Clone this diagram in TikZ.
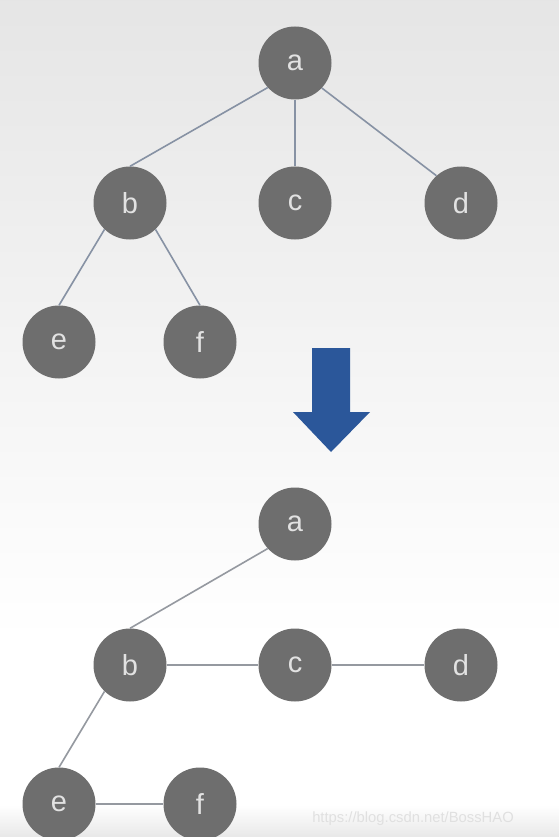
\documentclass[tikz,border=0pt]{standalone}
\usepackage{fontspec}
\setmainfont{Liberation Sans}
\begin{document}
\begin{tikzpicture}[x=1pt,y=-1pt,
  vert/.style={circle,fill=nodegray,minimum size=73pt,inner sep=0pt,text=nodetext,font=\fontsize{29}{29}\selectfont},
  edge/.style={line width=1.6pt,draw=edgecol}]
\definecolor{nodegray}{HTML}{6E6E6E}
\definecolor{nodetext}{HTML}{E2E2E2}
\definecolor{edgecol}{HTML}{8792A4}
\definecolor{edgecolb}{HTML}{9599A0}
\definecolor{arrowblue}{HTML}{2B579A}
\useasboundingbox (0,0) rectangle (559,837);
\shade[top color=black!10,bottom color=white] (0,0) rectangle (559,640);
\fill[white] (0,640) rectangle (559,805);
\shade[top color=white,bottom color=black!9] (0,805) rectangle (559,837);
% top tree
\node[vert] (a1) at (295,63) {a};
\node[vert] (b1) at (130,203) {b};
\node[vert] (c1) at (295,203) {c};
\node[vert] (d1) at (461,203) {d};
\node[vert] (e1) at (59,342) {e};
\node[vert] (f1) at (200,342) {f};
\draw[edge] (a1.-138) -- (b1.north);
\draw[edge] (a1.south) -- (c1.north);
\draw[edge] (a1.-43) -- (d1.132);
\draw[edge] (b1.-134) -- (e1.north);
\draw[edge] (b1.-46) -- (f1.north);
% arrow
\fill[arrowblue] (312,348) -- (350,348) -- (350,412) -- (370,412) -- (331,452) -- (293,412) -- (312,412) -- cycle;
% bottom tree
\node[vert] (a2) at (295,524) {a};
\node[vert] (b2) at (130,665) {b};
\node[vert] (c2) at (295,665) {c};
\node[vert] (d2) at (461,665) {d};
\node[vert] (e2) at (59,804) {e};
\node[vert] (f2) at (200,804) {f};
\draw[edge,draw=edgecolb] (a2.-138) -- (b2.north);
\draw[edge,draw=edgecolb] (b2.east) -- (c2.west);
\draw[edge,draw=edgecolb] (c2.east) -- (d2.west);
\draw[edge,draw=edgecolb] (b2.-134) -- (e2.north);
\draw[edge,draw=edgecolb] (e2.east) -- (f2.west);
\node[anchor=east,text=black!12,font=\fontsize{14.8}{15}\selectfont,inner sep=0pt] (wm) at (514,819) {https://blog.csdn.net/BossHAO};
\end{tikzpicture}
\end{document}
